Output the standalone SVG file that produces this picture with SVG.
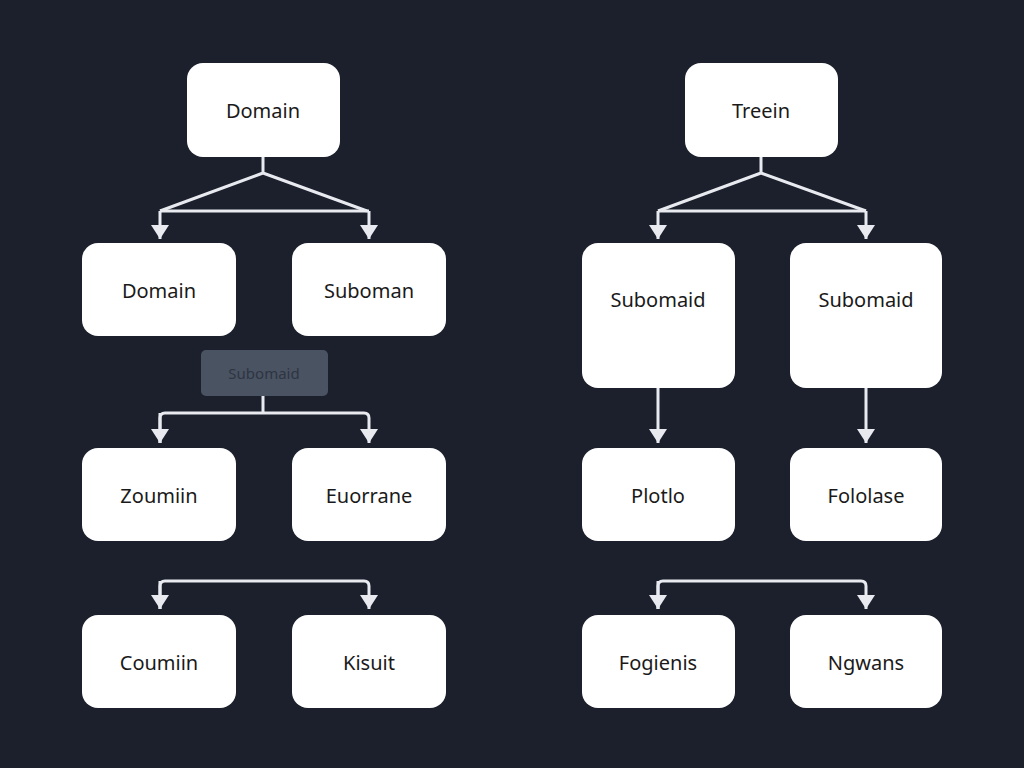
<svg xmlns="http://www.w3.org/2000/svg" width="1024" height="768" viewBox="0 0 1024 768">
<defs>
<marker id="ah" viewBox="0 0 14 18" refX="14" refY="9" markerWidth="14" markerHeight="18" markerUnits="userSpaceOnUse" orient="auto">
<path d="M0,0 L14,9 L0,18 Z" fill="#e8eaf0"/>
</marker>
<style>
.n{fill:#ffffff}
.t{font-family:"Noto Sans","Liberation Sans",Arial,sans-serif;font-size:20px;fill:#1a1a1a;text-anchor:middle;dominant-baseline:central}
.c{fill:none;stroke:#e8eaf0;stroke-width:3;stroke-linejoin:round}
.a{marker-end:url(#ah)}
</style>
</defs>
<rect width="1024" height="768" fill="#1b202c"/>
<g id="connectors">
<path class="c" d="M263,157 V173 L160,211 M263,173 L367,211"/>
<path class="c" d="M160,211 H369"/>
<path class="c a" d="M160,211 V239"/>
<path class="c a" d="M369,211 V239"/>
<path class="c" d="M263,396 V413"/>
<path class="c a" d="M160,443 V418 Q160,413 165,413 H364 Q369,413 369,418 V443"/>
<path class="c a" d="M160,413 V443"/>
<path class="c a" d="M160,609 V586 Q160,581 165,581 H364 Q369,581 369,586 V609"/>
<path class="c a" d="M160,581 V609"/>
<path class="c" d="M761,157 V173 L658,211 M761,173 L866,211"/>
<path class="c" d="M658,211 H866"/>
<path class="c a" d="M658,211 V239"/>
<path class="c a" d="M866,211 V239"/>
<path class="c a" d="M658,388 V443"/>
<path class="c a" d="M866,388 V443"/>
<path class="c a" d="M658,609 V586 Q658,581 663,581 H861 Q866,581 866,586 V609"/>
<path class="c a" d="M658,581 V609"/>
</g>
<g id="n1"><rect class="n" x="187" y="63" width="153" height="94" rx="16"/><text class="t" x="263" y="110">Domain</text></g>
<g id="n2"><rect class="n" x="82" y="243" width="154" height="93" rx="16"/><text class="t" x="159" y="290">Domain</text></g>
<g id="n3"><rect class="n" x="292" y="243" width="154" height="93" rx="16"/><text class="t" x="369" y="290">Suboman</text></g>
<g id="n4"><rect x="201" y="350" width="127" height="46" rx="5" fill="#4a5362"/><text class="t" x="264" y="373" style="font-size:15px;fill:#2e3543">Subomaid</text></g>
<g id="n5"><rect class="n" x="82" y="448" width="154" height="93" rx="16"/><text class="t" x="159" y="495">Zoumiin</text></g>
<g id="n6"><rect class="n" x="292" y="448" width="154" height="93" rx="16"/><text class="t" x="369" y="495">Euorrane</text></g>
<g id="n7"><rect class="n" x="82" y="615" width="154" height="93" rx="16"/><text class="t" x="159" y="662">Coumiin</text></g>
<g id="n8"><rect class="n" x="292" y="615" width="154" height="93" rx="16"/><text class="t" x="369" y="662">Kisuit</text></g>
<g id="n9"><rect class="n" x="685" y="63" width="153" height="94" rx="16"/><text class="t" x="761" y="110">Treein</text></g>
<g id="n10"><rect class="n" x="582" y="243" width="153" height="145" rx="16"/><text class="t" x="658" y="299">Subomaid</text></g>
<g id="n11"><rect class="n" x="790" y="243" width="152" height="145" rx="16"/><text class="t" x="866" y="299">Subomaid</text></g>
<g id="n12"><rect class="n" x="582" y="448" width="153" height="93" rx="16"/><text class="t" x="658" y="495">Plotlo</text></g>
<g id="n13"><rect class="n" x="790" y="448" width="152" height="93" rx="16"/><text class="t" x="866" y="495">Fololase</text></g>
<g id="n14"><rect class="n" x="582" y="615" width="153" height="93" rx="16"/><text class="t" x="658" y="662">Fogienis</text></g>
<g id="n15"><rect class="n" x="790" y="615" width="152" height="93" rx="16"/><text class="t" x="866" y="662">Ngwans</text></g>
</svg>
